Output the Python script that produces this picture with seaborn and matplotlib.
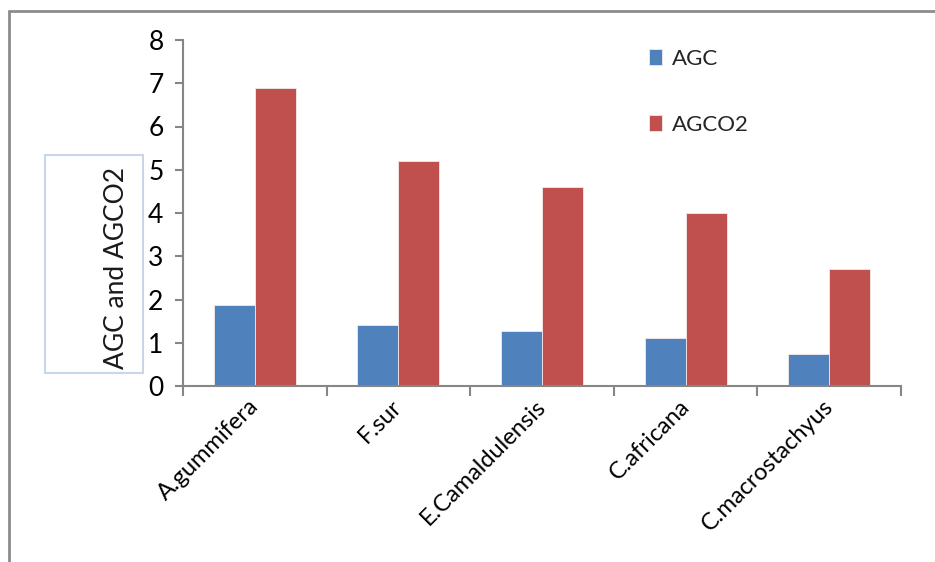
import matplotlib
matplotlib.use("Agg")
import matplotlib.pyplot as plt
from matplotlib.lines import Line2D
from matplotlib.patches import Rectangle
from matplotlib.transforms import ScaledTranslation
import pandas as pd
import seaborn as sns

species = ["A.gummifera", "F.sur", "E.Camaldulensis", "C.africana", "C.macrostachyus"]
agc = [1.88, 1.42, 1.28, 1.1, 0.73]
agco2 = [6.9, 5.2, 4.6, 4.0, 2.7]
series_names = ["AGC", "AGCO2"]
y_ticks = [0, 1, 2, 3, 4, 5, 6, 7, 8]

df = pd.DataFrame({
    "species": species * 2,
    "measure": [series_names[0]] * len(species) + [series_names[1]] * len(species),
    "value": agc + agco2,
})

sns.set_style("white")
plt.rcParams["font.family"] = ["Lato", "DejaVu Sans"]

fig = plt.figure(figsize=(9.35, 5.62), dpi=100)
ax = fig.add_axes([183 / 935, 1 - 386 / 562, (901 - 183) / 935, (386 - 40) / 562])

sns.barplot(data=df, x="species", y="value", hue="measure",
            palette=["#4F81BD", "#C0504D"], width=2 / 3.5, saturation=1,
            edgecolor="#f4e9e9", linewidth=0.6, ax=ax)

axis_grey = "#868686"
ax.set_xlim(-0.5, len(species) - 0.5)
ax.set_ylim(0, 8)
ax.set_yticks(y_ticks)
ax.set_xlabel("")
ax.set_ylabel("")
for side in ["top", "right"]:
    ax.spines[side].set_visible(False)
for side in ["left", "bottom"]:
    ax.spines[side].set_color(axis_grey)
    ax.spines[side].set_linewidth(1.5)

ax.tick_params(axis="y", direction="out", length=6, width=1.5, color=axis_grey,
               labelsize=19, labelcolor="black", pad=8, left=True)
# category separators on the x axis
ax.set_xticks([i - 0.5 for i in range(len(species) + 1)], minor=True)
ax.tick_params(axis="x", which="minor", direction="out", length=7, width=1.5,
               color=axis_grey, bottom=True)
ax.tick_params(axis="x", which="major", length=0, pad=7)
ax.set_xticks(range(len(species)))
ax.set_xticklabels(species, rotation=45, ha="right", rotation_mode="anchor",
                   fontsize=17, color="black")
shift = ScaledTranslation(-7 / 100, 0, fig.dpi_scale_trans)
for lbl in ax.get_xticklabels():
    lbl.set_transform(lbl.get_transform() + shift)

# legend without frame, top right
handles, labels = ax.get_legend_handles_labels()
ax.legend(handles, labels, loc="upper left", bbox_to_anchor=(649 / 935, 1 - 49 / 562),
          bbox_transform=fig.transFigure, frameon=False, fontsize=16,
          handlelength=0.6, handleheight=0.7, handletextpad=0.45,
          labelspacing=2.05, borderpad=0, borderaxespad=0)

# boxed y-axis title
fig.patches.append(Rectangle((45 / 935, 1 - 373 / 562), 98 / 935, 218 / 562,
                             transform=fig.transFigure, fill=False,
                             edgecolor="#c9d6e8", linewidth=1.5))
fig.text(117 / 935, 1 - 268 / 562, "AGC and AGCO2", rotation=90,
         ha="center", va="center", fontsize=19, color="#1a1a1a")

# chart area outline (top and left edges)
fig.lines.append(Line2D([8.5 / 935, 8.5 / 935], [0, 1 - 11 / 562],
                        transform=fig.transFigure, color="#8c8c8c", linewidth=2))
fig.lines.append(Line2D([8.5 / 935, 1], [1 - 11 / 562, 1 - 11 / 562],
                        transform=fig.transFigure, color="#8c8c8c", linewidth=2))

fig.savefig("out.png", dpi=100)
